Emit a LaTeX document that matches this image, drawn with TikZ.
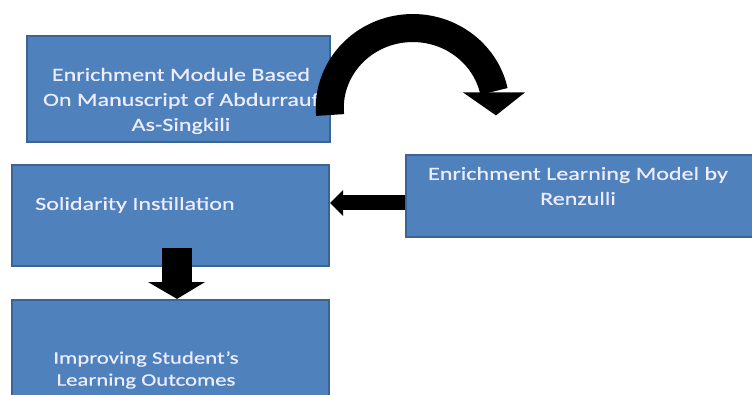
\documentclass[tikz,border=0pt]{standalone}
\usepackage{fontspec}
\setmainfont{Carlito}
\newfontfamily\wide[FakeStretch=1.3,FakeBold=0.6]{Carlito}
\usetikzlibrary{calc}
\definecolor{boxblue}{HTML}{4F81BD}
\definecolor{boxedge}{HTML}{3A6496}
\begin{document}
\begin{tikzpicture}[x=1pt,y=-1pt,
  box/.style={draw=boxedge,line width=2.2pt,fill=boxblue,inner sep=0pt},
  txt/.style={text=white!93!blue,font=\wide\fontsize{18.5}{25}\selectfont,align=center,inner sep=0pt},
  blk/.style={fill=black,draw=none}]
\useasboundingbox (0,0) rectangle (752,394);
% boxes
\node[box,minimum width=303pt,minimum height=106pt] (A) at (178.5,89) {};
\node[box,minimum width=317pt,minimum height=101pt] (B) at (170.5,215.5) {};
\node[box,minimum width=317pt,minimum height=100pt] (C) at (170.5,350) {};
\node[box,minimum width=352pt,minimum height=82pt] (D) at (582,196) {};
% texts
\node[txt] (tA) at (181,101) {Enrichment Module Based\\On Manuscript of Abdurrauf\\As-Singkili};
\node[txt,anchor=west] (tB) at (35,205) {Solidarity Instillation};
\node[txt,font=\wide\fontsize{17.5}{22}\selectfont] (tC) at (146,370) {Improving Student’s\\Learning Outcomes};
\node[txt] (tD) at (578,186) {Enrichment Learning Model by\\Renzulli};
% curved arrow
\coordinate (cs) at ($(A.east)+(-1,26)$);
\draw[line width=28pt] (cs) arc[start angle=185,end angle=12,x radius=83pt,y radius=80pt] coordinate (ce);
\fill[blk] ($(ce)+(-31,1)$) -- ($(ce)+(31,1)$) -- ($(ce)+(2,24)$) -- cycle;
% left arrow
\coordinate (l1) at ($(D.west)+(0,7)$);
\fill[blk] (l1|-0,195) rectangle (343,210);
\fill[blk] (343,190) -- (343,216) -- (B.east|-0,203) -- cycle;
% down arrow
\fill[blk] (162,248) rectangle (192,282);
\fill[blk] (148,282) -- (205,282) -- (177,0|-C.north) -- cycle;
\end{tikzpicture}
\end{document}
